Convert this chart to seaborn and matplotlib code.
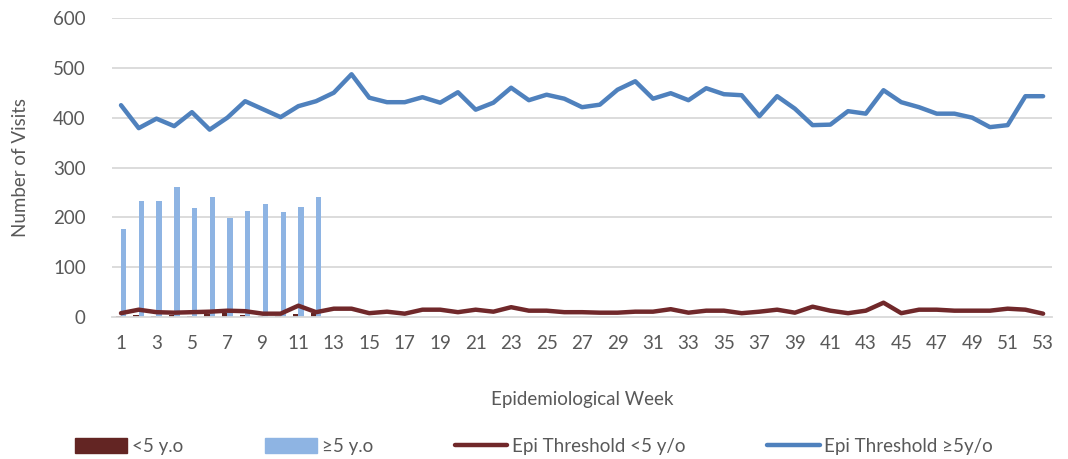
import numpy as np
import pandas as pd
import matplotlib
matplotlib.use('Agg')
import matplotlib.pyplot as plt
import seaborn as sns
from matplotlib.patches import Patch
from matplotlib.lines import Line2D

weeks = list(range(1, 54))

# weekly visits (weeks 1-12 only)
under5_visits = [2, 5, 3, 5, 2, 6, 8, 5, 3, 3, 7, 8]
over5_visits = [177, 233, 233, 260, 219, 240, 198, 213, 227, 211, 221, 240]

# epidemic thresholds for weeks 1-53
thr_under5 = [8, 15, 10, 9, 10, 11, 13, 12, 7, 7, 23, 10, 17, 17, 8, 11, 7, 15, 15, 10,
              15, 11, 20, 13, 13, 10, 10, 9, 9, 11, 11, 16, 9, 13, 13, 8, 11, 15, 9, 21,
              13, 8, 13, 29, 8, 15, 15, 13, 13, 13, 17, 15, 7]
thr_over5 = [425, 379, 398, 383, 411, 376, 400, 433, 417, 401, 423, 433, 450, 487, 440,
             431, 431, 441, 430, 451, 416, 430, 460, 435, 446, 438, 421, 426, 456, 473,
             438, 449, 435, 459, 447, 445, 403, 443, 418, 385, 386, 413, 408, 455, 431,
             421, 408, 408, 400, 381, 385, 443, 443]

c_dark = '#632523'
c_bar_blue = '#8EB4E3'
c_line_blue = '#4F81BD'
c_text = '#595959'
fs = 13.5

sns.set_style('white')
plt.rcParams['font.family'] = ['Lato', 'DejaVu Sans']

bars = pd.DataFrame({
    'week': [str(w) for w in weeks[:12]] * 2,
    'visits': under5_visits + over5_visits,
    'group': ['<5 y.o'] * 12 + ['\u22655 y.o'] * 12,
})

fig = plt.figure(figsize=(10.68, 4.59), dpi=100)
ax = fig.add_axes([0.105, 0.309, 0.88, 0.652])

for v in range(100, 601, 100):
    ax.axhline(v, color='#D9D9D9', lw=1.3, zorder=0)

sns.barplot(data=bars, x='week', y='visits', hue='group',
            order=[str(w) for w in weeks],
            palette=[c_dark, c_bar_blue], width=0.6, ax=ax, legend=False,
            saturation=1, linewidth=0, zorder=2)

xpos = np.arange(len(weeks))
sns.lineplot(x=xpos, y=thr_under5, color='#70282A', lw=3.2, ax=ax, zorder=3)
sns.lineplot(x=xpos, y=thr_over5, color=c_line_blue, lw=3.2, ax=ax, zorder=3)

ax.set_xlim(-0.5, 52.5)
ax.set_ylim(0, 600)
ax.set_yticks(range(0, 601, 100))
ax.set_xticks(xpos[::2])
ax.set_xticklabels([str(w) for w in weeks[::2]])
ax.tick_params(axis='both', length=0, labelsize=fs, colors=c_text)
ax.tick_params(axis='x', pad=13)
ax.tick_params(axis='y', pad=19)
for s in ['top', 'right', 'left']:
    ax.spines[s].set_visible(False)
ax.spines['bottom'].set_color('#D9D9D9')
ax.spines['bottom'].set_linewidth(1.3)

ax.set_xlabel('Epidemiological Week', fontsize=fs, color=c_text, labelpad=28)
ax.set_ylabel('Number of Visits', fontsize=fs, color=c_text, labelpad=17)

handles = [Patch(color=c_dark), Patch(color=c_bar_blue),
           Line2D([], [], color='#70282A', lw=3.2),
           Line2D([], [], color=c_line_blue, lw=3.2)]
labels = ['<5 y.o', '\u22655 y.o', 'Epi Threshold <5 y/o', 'Epi Threshold \u22655y/o']
fig.legend(handles, labels, loc='lower center', bbox_to_anchor=(0.5, -0.028), ncol=4,
           frameon=False, fontsize=fs, labelcolor=c_text, columnspacing=4.35,
           handlelength=2.8, handleheight=0.8, handletextpad=0.25)

fig.savefig('out.png', dpi=100)
